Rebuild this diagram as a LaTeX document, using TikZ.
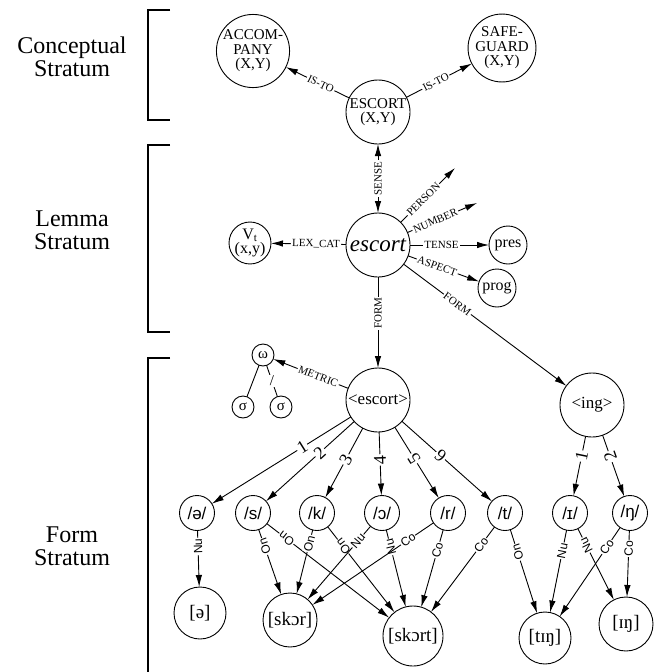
\documentclass[tikz,border=0pt]{standalone}
\usepackage{fontspec}
\setmainfont{Liberation Serif}
\newfontfamily\phfont{Liberation Sans}
\usetikzlibrary{arrows.meta}
\begin{document}
\begin{tikzpicture}[x=1pt,y=-1pt,
  every node/.style={inner sep=0pt, outer sep=0pt},
  line width=0.9pt,
  circ/.style={draw, circle, line width=0.9pt, inner sep=0pt, align=center},
  bignode/.style={circ, minimum size=64pt, font=\fontsize{15}{14.5}\selectfont},
  midnode/.style={circ, minimum size=40pt, font=\fontsize{16}{13}\selectfont},
  phnode/.style={circ, minimum size=35pt, font=\phfont\fontsize{17}{17}\selectfont},
  brnode/.style={circ, font=\fontsize{19}{19}\selectfont},
  tinynode/.style={circ, minimum size=22pt, font=\fontsize{15}{15}\selectfont},
  arr/.style={-{Latex[length=12pt,width=6.5pt]}},
  rarr/.style={{Latex[length=12pt,width=6.5pt]}-},
  barr/.style={{Latex[length=12pt,width=6.5pt]}-{Latex[length=12pt,width=6.5pt]}},
  elab/.style={fill=white, inner sep=1.2pt, sloped, font=\fontsize{11}{11}\selectfont},
  dlab/.style={fill=white, inner sep=1.2pt, sloped, allow upside down, font=\fontsize{18}{18}\selectfont},
  blab/.style={fill=white, inner sep=0.8pt, sloped, allow upside down, font=\phfont\fontsize{12}{12}\selectfont},
  stlab/.style={align=center, font=\fontsize{24}{23}\selectfont},
  brk/.style={line width=1.1pt}
]
\useasboundingbox (0,0) rectangle (654,672);

% strata brackets and labels
\draw[brk] (170,10) -- (148,10) -- (148,120) -- (170,120);
\draw[brk] (170,145) -- (148,145) -- (148,332) -- (170,332);
\draw[brk] (170,358) -- (148,358) -- (148,672);
\node[stlab] (cst) at (72,57) {Conceptual\\Stratum};
\node[stlab] (lst) at (72,230) {Lemma\\Stratum};
\node[stlab] (fst) at (72,546) {Form\\Stratum};

% conceptual stratum
\node[bignode] (acc) at (253,51) {ACCOM-\\PANY\\(X,Y)};
\node[bignode] (safe) at (502,48) {SAFE-\\GUARD\\(X,Y)};
\node[bignode] (ESC) at (378,112) {ESCORT\\(X,Y)};

% lemma stratum
\node[bignode, font=\itshape\fontsize{23}{23}\selectfont] (esc) at (378,245) {escort};
\node[midnode] (vt) at (250,243) {V\textsubscript{t}\\(x,y)};
\node[midnode, minimum size=38pt] (pres) at (508,245) {pres};
\node[midnode, minimum size=38pt] (prog) at (497,288) {prog};
\coordinate (pe) at (455,168);
\coordinate (nb) at (477,203);

\draw[arr] (ESC) -- node[elab, pos=0.45] {IS-TO} (acc);
\draw[arr] (ESC) -- node[elab, pos=0.45] {IS-TO} (safe);
\draw[barr] (ESC) -- node[elab, sloped=false, rotate=90] {SENSE} (esc);
\draw[arr] (esc) -- node[elab, pos=0.42] {PERSON} (pe);
\draw[arr] (esc) -- node[elab, pos=0.4] {NUMBER} (nb);
\draw[arr] (esc) -- node[elab, pos=0.4] {TENSE} (pres);
\draw[arr] (esc) -- node[elab, pos=0.41] {ASPECT} (prog);
\draw[arr] (esc) -- node[elab, pos=0.4] {LEX\_CAT} (vt);

% form stratum
\node[bignode, font=\fontsize{17}{17}\selectfont] (fesc) at (378,400) {<escort>};
\node[bignode, font=\fontsize{17}{17}\selectfont] (ing) at (592,405) {<ing>};
\draw[arr] (esc) -- node[elab, sloped=false, rotate=90, pos=0.4] {FORM} (fesc);
\draw[arr] (esc) -- node[elab, pos=0.33] {FORM} (ing);

\node[tinynode] (om) at (263,355) {ω};
\node[tinynode] (sg1) at (243,407) {σ};
\node[tinynode] (sg2) at (281,407) {σ};
\draw[arr] (fesc) -- node[elab, pos=0.4] {METRIC} (om);
\draw (om) -- (sg1);
\draw (om) -- node[fill=white, inner sep=1pt, font=\fontsize{15}{15}\selectfont] {/} (sg2);

\node[phnode] (pa) at (197,513) {/ə/};
\node[phnode] (ps) at (253,513) {/s/};
\node[phnode] (pk) at (317,513) {/k/};
\node[phnode] (po) at (382,513) {/ɔ/};
\node[phnode] (pr) at (448,513) {/r/};
\node[phnode] (pt) at (505,513) {/t/};
\node[phnode] (pi) at (570,513) {/ɪ/};
\node[phnode] (pn) at (630,513) {/ŋ/};

\draw[rarr] (pa) -- node[dlab, pos=0.65] {1} (fesc);
\draw[rarr] (ps) -- node[dlab, pos=0.61] {2} (fesc);
\draw[rarr] (pk) -- node[dlab, pos=0.55] {3} (fesc);
\draw[rarr] (po) -- node[dlab, pos=0.56] {4} (fesc);
\draw[rarr] (pr) -- node[dlab, pos=0.56] {5} (fesc);
\draw[rarr] (pt) -- node[dlab, pos=0.57] {6} (fesc);
\draw[rarr] (pi) -- node[dlab, pos=0.67] {1} (ing);
\draw[rarr] (pn) -- node[dlab, pos=0.65] {2} (ing);

\node[brnode, minimum size=52pt] (ba) at (200,613) {[ə]};
\node[brnode, minimum size=54pt] (bskr) at (290,620) {[skɔr]};
\node[brnode, minimum size=60pt] (bskrt) at (413,636) {[skɔrt]};
\node[brnode, minimum size=52pt] (bting) at (545,638) {[tɪŋ]};
\node[brnode, minimum size=54pt] (bing) at (626,624) {[ɪŋ]};

\draw[rarr] (ba) -- node[blab, pos=0.72] {Nu} (pa);
\draw[rarr] (bskr) -- node[blab, pos=0.74] {On} (ps);
\draw[rarr] (bskrt) -- node[blab, pos=0.84] {On} (ps);
\draw[rarr] (bskr) -- node[blab, pos=0.79] {On} (pk);
\draw[rarr] (bskrt) -- node[blab, pos=0.77] {On} (pk);
\draw[rarr] (bskr) -- node[blab, pos=0.8] {Nu} (po);
\draw[rarr] (bskrt) -- node[blab, pos=0.78] {Nu} (po);
\draw[rarr] (bskr) -- node[blab, pos=0.79] {Co} (pr);
\draw[rarr] (bskrt) -- node[blab, pos=0.74] {Co} (pr);
\draw[rarr] (bskrt) -- node[blab, pos=0.79] {Co} (pt);
\draw[rarr] (bting) -- node[blab, pos=0.73] {On} (pt);
\draw[rarr] (bting) -- node[blab, pos=0.75] {Nu} (pi);
\draw[rarr] (bing) -- node[blab, pos=0.77] {Nu} (pi);
\draw[rarr] (bting) -- node[blab, pos=0.78] {Co} (pn);
\draw[rarr] (bing) -- node[blab, pos=0.73] {Co} (pn);
\end{tikzpicture}
\end{document}
